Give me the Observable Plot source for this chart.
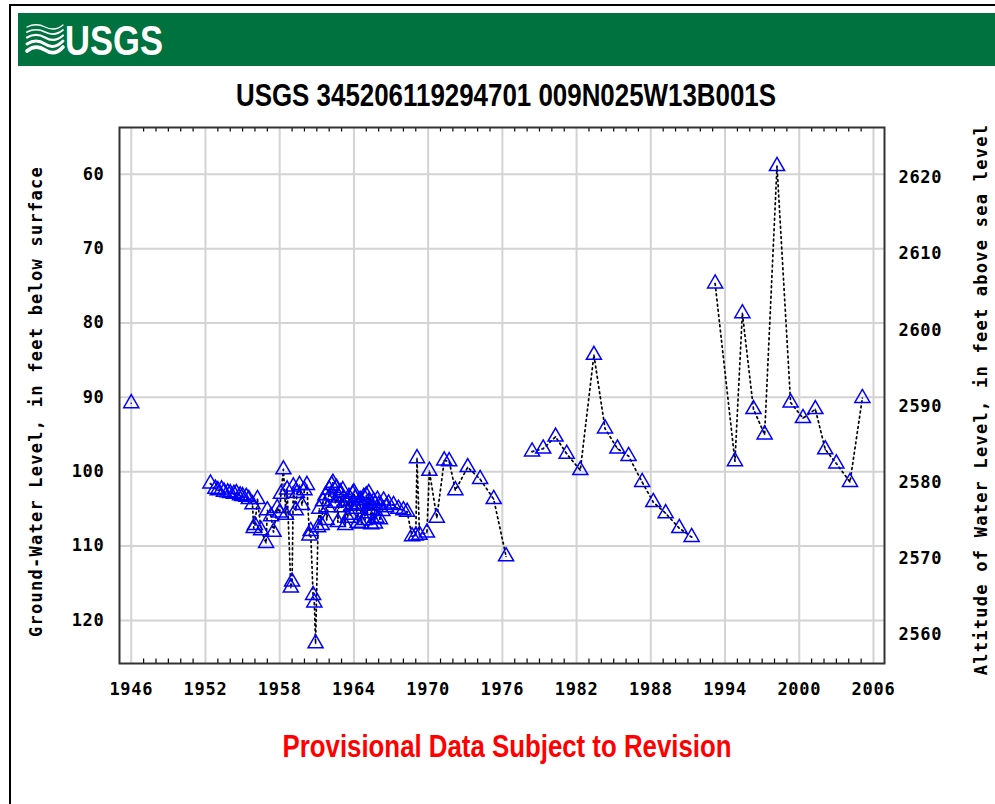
<!DOCTYPE html>
<html><head><meta charset="utf-8">
<script src="https://cdn.jsdelivr.net/npm/d3@7"></script>
<script src="https://cdn.jsdelivr.net/npm/@observablehq/plot@0.6"></script>
<style>
html,body{margin:0;padding:0;background:#fff;overflow:hidden;width:995px;height:804px;}
#border{position:absolute;left:9px;top:4px;width:1010px;height:830px;border:2px solid #000;box-sizing:border-box}
#header{position:absolute;left:18px;top:13px;width:990px;height:53px;background:#00723f}
#title{position:absolute;left:0;top:70px}
#chart{position:absolute;left:0;top:114px}
#caption{position:absolute;left:0;top:720px}
</style></head><body>
<div id="border"></div>
<div id="header">
<svg width="200" height="53">
<g fill="none" stroke="#fff" stroke-linecap="round">
<path d="M9,14 C15,11 21,11 27,14 S39,17 45,12" stroke-width="1.3"/>
<path d="M9,19 C15,16 21,16 27,19 S39,22 45,17" stroke-width="1.7"/>
<path d="M9,24.5 C15,21 21,21 27,24.5 S39,28 45,22.5" stroke-width="2.2"/>
<path d="M9,31 C15,27 21,27 27,31 S39,34 45,28" stroke-width="2.9"/>
<path d="M9,38 C15,33 21,33 27,37 S39,41 45,34" stroke-width="3.6"/>
</g>
<text x="47" y="42" font-family="'Liberation Sans', Arial, sans-serif" font-weight="bold" font-size="42" fill="#fff" textLength="98" lengthAdjust="spacingAndGlyphs">USGS</text>
</svg>
</div>
<svg id="title" width="995" height="44"><text x="506" y="36" text-anchor="middle" font-family="'Liberation Sans', Arial, sans-serif" font-weight="bold" font-size="31.5" fill="#000" textLength="540" lengthAdjust="spacingAndGlyphs">USGS 345206119294701 009N025W13B001S</text></svg>
<div id="chart"></div>
<svg id="caption" width="995" height="50"><text x="507" y="37" text-anchor="middle" font-family="'Liberation Sans', Arial, sans-serif" font-weight="bold" font-size="32" fill="#ff0000" textLength="449" lengthAdjust="spacingAndGlyphs">Provisional Data Subject to Revision</text></svg>
<script>
// Measurement dates (decimal years) and depth to water (feet below land surface)
const years = [
 1946.0,
 1952.4, 1952.8, 1953.0, 1953.3, 1953.5, 1953.8, 1954.0, 1954.3, 1954.5, 1954.8, 1955.0, 1955.3, 1955.5, 1955.8,
 1955.9, 1956.0, 1956.2, 1956.5, 1956.9, 1957.0, 1957.3, 1957.5, 1957.8, 1958.0, 1958.1, 1958.3, 1958.5, 1958.6,
 1958.9, 1959.0, 1959.1, 1959.3, 1959.4, 1959.6, 1959.8, 1960.0, 1960.2, 1960.4, 1960.5, 1960.7, 1960.8, 1960.9,
 1961.1, 1961.2, 1961.4, 1961.5, 1961.7, 1961.8, 1961.9, 1962.0, 1962.1, 1962.2, 1962.3, 1962.5, 1962.6, 1962.7, 1962.8, 1962.9,
 1963.0, 1963.1, 1963.3, 1963.4, 1963.5, 1963.6, 1963.7, 1963.8, 1963.9, 1964.0, 1964.1, 1964.2, 1964.3, 1964.4, 1964.5,
 1964.6, 1964.7, 1964.8, 1964.9, 1965.0, 1965.1, 1965.2, 1965.3, 1965.4, 1965.5, 1965.6, 1965.7, 1965.8, 1965.9,
 1966.0, 1966.1, 1966.3, 1966.4, 1966.6, 1966.8, 1967.2, 1967.6, 1968.0, 1968.3,
 1968.7, 1969.0, 1969.1, 1969.3, 1969.9, 1970.1, 1970.7, 1971.3, 1971.7, 1972.2, 1973.2, 1974.2, 1975.3, 1976.3,
 1978.4, 1979.3, 1980.3, 1981.2, 1982.3, 1983.4, 1984.3, 1985.3, 1986.2, 1987.3, 1988.2, 1989.2, 1990.3, 1991.3,
 1993.2, 1994.8, 1995.4, 1996.3, 1997.2, 1998.2, 1999.3, 2000.3, 2001.3, 2002.1, 2003.0, 2004.1, 2005.1
];
const depth = [
 90.8,
 101.6, 102.3, 102.5, 102.4, 102.7, 102.8, 102.9, 103.0, 102.9, 103.2, 103.3, 103.4, 103.7, 104.4,
 107.6, 107.2, 103.7, 107.9, 109.6, 105.2, 106.0, 108.1, 104.9, 105.5, 103.0, 99.7, 105.8, 102.4,
 115.6, 114.8, 102.0, 105.2, 102.9, 101.8, 104.5, 102.5, 101.8, 108.6, 108.0, 116.6, 117.6, 123.1,
 107.5, 105.0, 107.2, 104.0, 103.2, 106.5, 104.8, 102.4, 103.2, 101.8, 101.5, 104.2, 102.2, 106.8, 103.5, 102.8,
 104.8, 102.5, 107.2, 104.0, 106.2, 103.4, 105.8, 104.6, 103.0, 102.8, 103.6, 105.0, 106.9, 104.4, 103.8,
 107.0, 104.6, 103.4, 106.5, 103.2, 105.6, 102.9, 104.2, 107.1, 105.2, 104.0, 107.0, 106.2, 103.8,
 104.5, 106.4, 105.3, 103.9, 104.8, 104.3, 104.5, 105.0, 105.2, 105.4,
 108.7, 108.6, 98.2, 108.5, 108.2, 99.9, 106.2, 98.5, 98.6, 102.5, 99.4, 101.0, 103.7, 111.4,
 97.3, 96.9, 95.3, 97.6, 99.8, 84.3, 94.2, 96.9, 97.9, 101.4, 104.1, 105.6, 107.6, 108.8,
 74.7, 98.6, 78.7, 91.6, 95.0, 58.9, 90.7, 92.8, 91.6, 97.0, 98.9, 101.4, 90.1
];
const xTicks = [1946, 1952, 1958, 1964, 1970, 1976, 1982, 1988, 1994, 2000, 2006];
const yTicks = [60, 70, 80, 90, 100, 110, 120];
const altTicks = [2560, 2570, 2580, 2590, 2600, 2610, 2620];
const leftTitle = "Ground-Water Level, in feet below surface";
const rightTitle = "Altitude of Water Level, in feet above sea level";

// break the connecting line at long gaps between measurements
let seg = 0;
const data = years.map((yr, i) => {
  if (i > 0 && yr - years[i - 1] > 1.8) seg++;
  return {year: yr, depth: depth[i], seg};
});
const minorYears = d3.range(1946, 2007).filter(y => !xTicks.includes(y));
const altToDepth = d3.scaleLinear().domain([2560, 2620]).range([121.95, 60.47]);
const yDom = [53.7, 125.8];
const mono = "'DejaVu Sans Mono', 'Liberation Mono', monospace";

const chart = Plot.plot({
  width: 995, height: 600,
  marginLeft: 119, marginRight: 111, marginTop: 13, marginBottom: 51,
  x: {domain: [1945.05, 2006.89], label: null},
  y: {domain: yDom, reverse: true, label: null},
  style: {fontFamily: mono, fontSize: "17px", fontWeight: "bold", color: "#000", background: "transparent", overflow: "visible"},
  marks: [
    Plot.ruleX(xTicks, {x: d => d, stroke: "#d3d3d3", strokeWidth: 2}),
    Plot.ruleY(yTicks, {y: d => d, stroke: "#d3d3d3", strokeWidth: 2}),
    Plot.ruleX(minorYears, {x: d => d, y1: yDom[1], y2: yDom[1] - 0.6, stroke: "#000", strokeWidth: 1.2}),
    Plot.ruleX(minorYears, {x: d => d, y1: yDom[0], y2: yDom[0] + 0.6, stroke: "#000", strokeWidth: 1.2}),
    Plot.line(data, {x: "year", y: "depth", z: "seg", stroke: "#000", strokeWidth: 1.7, strokeDasharray: "1.8,3.4"}),
    Plot.dot(data, {x: "year", y: "depth", symbol: "triangle", r: 5.6, stroke: "#0000ff", strokeWidth: 1.5, fill: "none"}),
    Plot.dot(data, {x: "year", y: "depth", r: 0.8, fill: "#0000ff", stroke: "none"}),
    Plot.frame({stroke: "#333", strokeWidth: 2}),
    Plot.axisX({ticks: xTicks, label: null, tickSize: 0, tickPadding: 19, tickFormat: d => String(d), fontSize: 17, fontWeight: "bold"}),
    Plot.axisY({ticks: yTicks, label: null, tickSize: 0, tickPadding: 15, tickFormat: d => String(d), fontSize: 17, fontWeight: "bold"}),
    Plot.text(altTicks, {frameAnchor: "right", y: d => altToDepth(d), text: d => String(d), dx: 14, textAnchor: "start", fontSize: 17, fontWeight: "bold"}),
    Plot.text([leftTitle], {frameAnchor: "left", text: d => d, dx: -83, dy: 6, rotate: -90, textAnchor: "middle", lineAnchor: "middle", fontSize: 17, fontWeight: "bold"}),
    Plot.text([rightTitle], {frameAnchor: "right", text: d => d, dx: 97, dy: 4, rotate: -90, textAnchor: "middle", lineAnchor: "middle", fontSize: 17, fontWeight: "bold"})
  ]
});
document.getElementById("chart").appendChild(chart);
d3.select(chart).selectAll("text").style("letter-spacing", "0.7px");
d3.select(chart).selectAll("text").filter(function(){ return this.textContent === leftTitle || this.textContent === rightTitle; }).style("letter-spacing", "1.25px");
</script>
</body></html>
